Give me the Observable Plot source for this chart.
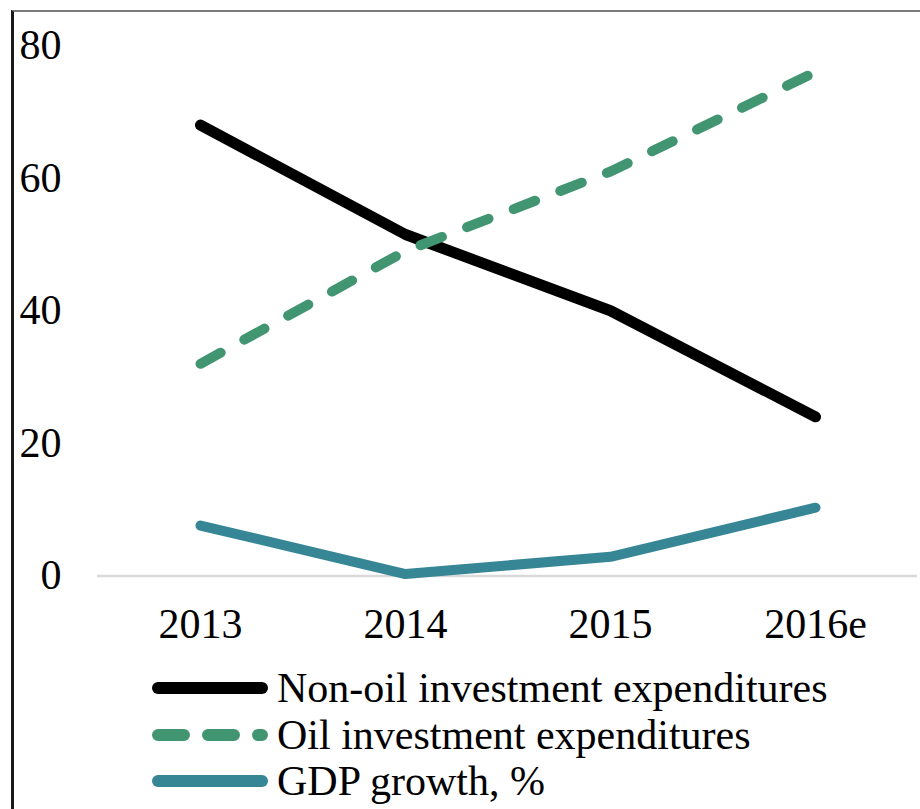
<!DOCTYPE html>
<html>
<head>
<meta charset="utf-8">
<script src="https://cdn.jsdelivr.net/npm/d3@7"></script>
<script src="https://cdn.jsdelivr.net/npm/@observablehq/plot@0.6"></script>
<style>
  html, body { margin: 0; padding: 0; background: #fff; }
  body { width: 920px; height: 809px; position: relative; overflow: hidden; font-family: "Liberation Serif", "Times New Roman", serif; }
  #frame { position: absolute; left: 11px; top: 10px; width: 920px; height: 820px; border-top: 2px solid #7a7a7a; border-left: 3px solid #1a1a1a; box-sizing: border-box; }
  #chart { position: absolute; left: 0; top: 0; }
  #legend { position: absolute; left: 0; top: 0; width: 920px; }
  .row { position: absolute; left: 146px; height: 44px; display: flex; align-items: center; font-size: 42px; color: #000; line-height: 44px; white-space: nowrap; }
  .row svg { margin-right: 3px; }
</style>
</head>
<body>
<div id="frame"></div>
<div id="chart"></div>
<div id="legend"></div>
<script>
const years = ["2013", "2014", "2015", "2016e"];
const nonOil = [68, 51.5, 40, 24];
const oil = [32, 49, 61, 76];
const gdp = [7.6, 0.3, 2.9, 10.3];
const yTicks = [0, 20, 40, 60, 80];
const seriesNames = ["Non-oil investment expenditures", "Oil investment expenditures", "GDP growth, %"];
const seriesColors = ["#000000", "#419671", "#368696"];

const rows = (vals, name) => years.map((y, i) => ({year: y, value: vals[i], series: name}));
const dNon = rows(nonOil, seriesNames[0]);
const dOil = rows(oil, seriesNames[1]);
const dGdp = rows(gdp, seriesNames[2]);

const plot = Plot.plot({
  width: 920,
  height: 660,
  marginLeft: 97,
  marginRight: 3,
  marginTop: 45,
  marginBottom: 84.5,
  style: { fontFamily: "'Liberation Serif', 'Times New Roman', serif", fontSize: "42px", background: "transparent", color: "#000", overflow: "visible" },
  x: { type: "point", domain: years, padding: 0.5, label: null },
  y: { domain: [0, 80], label: null },
  marks: [
    Plot.ruleY([0], { stroke: "#d9d9d9", strokeWidth: 2.5 }),
    Plot.axisY({ ticks: yTicks, tickSize: 0, tickPadding: 36, label: null, fontSize: 42 }),
    Plot.axisX({ tickSize: 0, tickPadding: 32, label: null, fontSize: 42 }),
    Plot.line(dGdp, { x: "year", y: "value", stroke: seriesColors[2], strokeWidth: 10, strokeLinecap: "round", strokeLinejoin: "round" }),
    Plot.line(dNon, { x: "year", y: "value", stroke: seriesColors[0], strokeWidth: 11, strokeLinecap: "round", strokeLinejoin: "round" }),
    Plot.line(dOil, { x: "year", y: "value", stroke: seriesColors[1], strokeWidth: 10, strokeLinecap: "round", strokeLinejoin: "round", strokeDasharray: "23,27" })
  ]
});
document.getElementById("chart").appendChild(plot);

// legend
const legend = document.getElementById("legend");
const rowTops = [666, 713, 759];
const dashes = [null, "26,24", null];
seriesNames.forEach((name, i) => {
  const row = document.createElement("div");
  row.className = "row";
  row.style.top = rowTops[i] + "px";
  const ns = "http://www.w3.org/2000/svg";
  const svg = document.createElementNS(ns, "svg");
  svg.setAttribute("width", 128);
  svg.setAttribute("height", 20);
  const ln = document.createElementNS(ns, "line");
  ln.setAttribute("x1", 12); ln.setAttribute("x2", 116);
  ln.setAttribute("y1", 10); ln.setAttribute("y2", 10);
  ln.setAttribute("stroke", seriesColors[i]);
  ln.setAttribute("stroke-width", 12);
  ln.setAttribute("stroke-linecap", "round");
  if (dashes[i]) ln.setAttribute("stroke-dasharray", dashes[i]);
  svg.appendChild(ln);
  row.appendChild(svg);
  const t = document.createElement("span");
  t.textContent = name;
  row.appendChild(t);
  legend.appendChild(row);
});
</script>
</body>
</html>
